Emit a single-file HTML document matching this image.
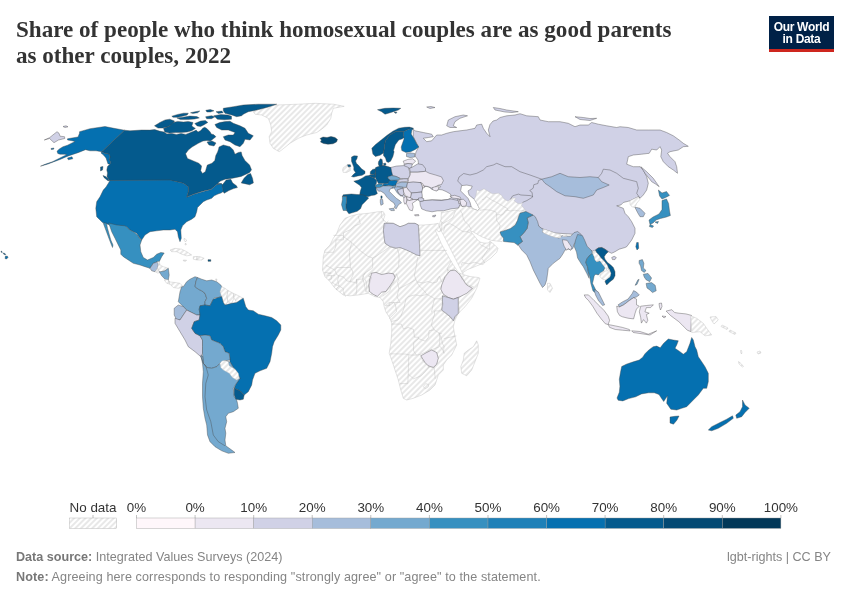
<!DOCTYPE html>
<html><head><meta charset="utf-8">
<style>
html,body{margin:0;padding:0;background:#fff;}
body{width:850px;height:600px;position:relative;overflow:hidden;font-family:"Liberation Sans",sans-serif;}
#wrap{position:absolute;left:0;top:0;width:850px;height:600px;will-change:transform;background:#fff;}
.title{position:absolute;left:16px;top:17px;font-family:"Liberation Serif",serif;font-weight:bold;font-size:24px;line-height:25.5px;color:#333;white-space:nowrap;transform:scaleX(0.962);transform-origin:0 0;}
.logo{position:absolute;left:769px;top:16px;width:65px;height:36px;background:#002147;}
.logo .bar{position:absolute;left:0;bottom:0;width:65px;height:3px;background:#ce261e;}
.logo .t{position:absolute;left:0;top:4.5px;width:65px;text-align:center;color:#fff;font-size:12px;line-height:12.5px;font-weight:bold;letter-spacing:-0.3px;}
svg{position:absolute;left:0;top:0;}
.foot{position:absolute;left:16px;font-size:12.6px;color:#858585;white-space:nowrap;}
.foot b{color:#777;}
.lic{position:absolute;right:19px;top:550px;font-size:12.6px;color:#858585;}
</style></head><body><div id="wrap">
<div class="title">Share of people who think homosexual couples are as good parents<br>as other couples, 2022</div>
<div class="logo"><div class="t">Our World<br>in Data</div><div class="bar"></div></div>
<svg width="850" height="600" viewBox="0 0 850 600">
<defs><pattern id="nd" patternUnits="userSpaceOnUse" width="4" height="4" patternTransform="rotate(-45 2 2)"><rect x="-1" y="-1" width="6" height="6" fill="#fff"/><path d="M -1,2 l 6,0" stroke="#c9c9c9" stroke-width="0.85"/></pattern></defs>
<g>
<path d="M413.3,129.2 L415.0,130.8 L423.3,132.5 L431.7,134.2 L433.3,136.7 L428.3,137.5 L423.3,138.3 L426.7,141.7 L431.7,140.8 L436.7,135.0 L441.7,135.0 L446.7,133.3 L453.3,131.7 L460.0,130.8 L466.7,130.0 L475.0,128.3 L476.7,125.0 L481.7,124.2 L483.3,128.3 L486.7,133.3 L490.0,136.7 L488.3,130.0 L490.0,124.5 L493.0,121.0 L496.7,120.0 L500.0,117.5 L506.7,115.8 L515.0,115.0 L520.0,113.7 L526.7,115.8 L538.3,116.7 L540.0,120.0 L548.3,121.7 L560.0,121.7 L568.3,123.3 L575.0,126.7 L580.0,125.0 L588.3,125.0 L591.7,122.5 L598.3,124.2 L606.7,125.8 L616.7,127.5 L620.0,126.7 L628.3,127.5 L636.7,130.0 L648.3,130.0 L660.0,130.0 L666.7,132.5 L673.3,135.8 L679.2,140.0 L683.3,143.3 L688.3,146.3 L683.3,146.7 L678.3,150.0 L670.0,151.7 L667.5,153.3 L670.0,156.7 L675.0,161.7 L676.7,166.7 L677.5,173.3 L673.3,170.0 L668.3,166.7 L663.3,161.7 L660.8,156.7 L661.7,150.0 L660.0,146.7 L656.7,150.0 L651.7,149.2 L649.2,153.3 L641.7,154.2 L633.3,155.0 L628.3,156.7 L626.7,164.2 L633.3,166.7 L640.0,166.7 L643.3,170.0 L646.7,176.7 L648.3,183.3 L646.7,190.0 L643.3,195.0 L640.0,198.3 L638.3,196.7 L630.0,200.8 L623.3,202.5 L620.8,205.0 L616.7,205.8 L623.3,208.3 L625.0,213.3 L628.3,216.7 L631.7,221.7 L635.0,228.3 L635.0,233.3 L631.7,240.0 L626.7,246.7 L625.0,247.5 L619.2,249.2 L615.0,251.7 L611.7,253.3 L608.3,251.7 L605.0,249.2 L601.7,247.5 L598.3,247.9 L595.4,250.0 L592.5,251.2 L588.3,249.2 L584.2,243.3 L580.0,235.0 L570.0,234.0 L555.0,233.0 L540.0,228.0 L530.0,215.0 L520.0,210.0 L505.0,206.0 L490.0,206.0 L478.0,206.0 L468.0,207.0 L460.0,206.0 L450.0,201.0 L440.0,201.0 L425.0,200.0 L420.0,196.0 L418.0,188.0 L420.0,175.0 L418.0,160.0 L415.0,156.0 L416.0,152.0 L418.5,147.0 L416.5,143.0 L413.3,136.7 L413.3,131.0Z" fill="#d0d1e6" stroke="#444" stroke-width="0.4"/>
<path d="M330.0,245.0 L333.3,238.3 L336.7,233.3 L340.0,225.0 L345.0,218.3 L351.7,215.8 L358.3,214.2 L368.3,213.3 L378.3,211.7 L383.3,211.7 L385.0,215.0 L383.3,220.0 L386.7,222.5 L393.3,223.3 L400.0,226.7 L405.0,225.0 L408.3,223.3 L415.0,223.3 L418.3,225.0 L423.3,225.0 L433.3,224.2 L438.3,223.3 L439.1,225.4 L441.2,230.7 L439.0,232.0 L436.0,229.5 L435.5,231.0 L438.0,236.0 L441.0,243.0 L444.7,250.0 L448.7,257.0 L452.7,264.0 L456.7,270.0 L459.3,273.0 L463.0,274.5 L470.0,276.5 L478.3,277.5 L480.0,278.3 L476.7,288.3 L471.7,298.3 L465.0,306.7 L458.3,313.3 L455.0,320.0 L453.3,326.7 L455.0,336.7 L456.7,345.0 L451.7,355.0 L446.7,360.0 L443.3,365.0 L443.3,370.0 L438.3,375.0 L436.7,380.0 L435.0,385.0 L430.0,390.0 L421.7,395.0 L413.3,398.3 L406.7,400.0 L403.3,398.3 L400.8,390.0 L398.3,380.0 L395.0,370.0 L391.7,360.0 L389.2,353.3 L390.8,343.3 L391.7,333.3 L391.7,323.3 L390.0,318.3 L385.8,311.7 L384.2,306.7 L383.3,301.7 L380.0,297.5 L375.0,296.7 L368.3,293.3 L358.3,295.0 L350.0,295.8 L343.3,295.0 L335.0,288.3 L330.0,281.7 L325.0,276.7 L322.5,270.0 L323.3,256.7 L325.0,250.0Z" fill="url(#nd)" stroke="#bcbcbc" stroke-width="0.4"/>
<path d="M461.6,185.6 L466.9,185.1 L472.2,186.1 L471.2,188.8 L468.0,190.9 L469.1,195.1 L474.4,199.4 L477.5,204.6 L479.6,208.9 L477.5,210.5 L473.3,208.9 L471.2,206.8 L470.1,202.5 L468.0,198.3 L463.8,194.1 L460.6,190.9Z" fill="#fff" stroke="#444" stroke-width="0.4"/>
<path d="M421.8,190.0 L423.0,187.5 L426.0,186.3 L429.0,187.0 L432.0,189.5 L434.5,189.8 L436.5,190.8 L439.0,189.5 L442.0,189.8 L446.0,191.5 L450.5,194.0 L451.5,197.5 L448.0,199.5 L441.5,200.0 L432.0,199.8 L424.5,200.5 L422.0,199.0 L421.5,194.0Z" fill="#fff" stroke="#444" stroke-width="0.4"/>
<path d="M434.7,186.0 L437.5,185.3 L440.6,186.5 L439.0,188.5 L436.5,188.0Z" fill="#fff" stroke="#444" stroke-width="0.4"/>
<path d="M477.0,190.0 L479.6,190.9 L483.9,188.8 L489.2,191.9 L492.4,193.8 L495.0,193.5 L498.5,193.2 L501.5,195.3 L503.8,198.8 L507.9,201.2 L510.3,199.4 L513.0,197.5 L516.0,198.5 L514.0,200.5 L517.4,203.3 L520.9,203.8 L522.6,202.4 L521.5,205.3 L523.8,208.2 L525.6,210.6 L526.2,211.0 L523.3,212.3 L519.3,213.7 L518.0,217.7 L516.7,224.3 L512.7,228.3 L507.3,231.0 L500.7,231.0 L504.7,237.7 L502.0,241.7 L496.7,241.0 L491.3,240.3 L487.3,239.0 L483.3,237.5 L479.3,235.5 L474.0,232.3 L470.3,230.7 L472.0,233.0 L476.0,238.0 L478.7,241.2 L480.0,242.0 L484.0,243.0 L488.0,243.0 L490.3,241.5 L494.0,244.3 L498.0,248.3 L496.7,252.3 L491.3,257.7 L486.0,261.7 L480.7,264.3 L474.0,267.0 L467.3,269.7 L463.3,272.3 L462.9,274.0 L460.0,268.0 L456.0,260.0 L451.0,250.0 L446.0,240.0 L441.2,230.7 L439.1,225.4 L441.1,218.8 L441.3,212.3 L445.0,212.0 L450.0,211.0 L455.0,210.0 L458.3,208.3 L460.0,205.0 L462.0,206.5 L466.0,206.0 L469.0,207.5 L473.3,208.9 L477.5,210.5 L479.6,208.9 L477.5,204.6 L474.4,199.4 L476.0,195.0Z" fill="url(#nd)" stroke="#bcbcbc" stroke-width="0.4"/>
<path d="M253.3,111.7 L265.0,106.7 L276.7,105.0 L298.3,104.2 L315.0,103.3 L333.3,104.2 L344.2,106.3 L333.3,108.3 L331.7,113.3 L330.8,118.3 L326.7,125.0 L321.7,129.2 L316.7,132.5 L306.7,135.0 L298.3,138.3 L290.0,143.3 L281.7,150.0 L279.2,151.7 L273.3,148.3 L270.0,143.3 L269.2,136.7 L271.7,131.7 L270.8,125.0 L268.3,118.3 L261.7,115.0 L255.0,114.2Z" fill="url(#nd)" stroke="#bcbcbc" stroke-width="0.4"/>
<path d="M124.5,130.2 L130.0,130.8 L141.7,130.0 L150.0,130.1 L154.7,129.6 L159.4,131.1 L164.1,132.0 L166.9,133.9 L171.6,133.4 L176.4,134.4 L181.1,133.4 L185.8,134.4 L190.5,132.5 L194.2,131.1 L196.1,130.1 L198.0,132.0 L200.8,130.6 L202.7,128.2 L204.6,127.3 L206.5,128.2 L208.4,130.1 L210.2,132.0 L211.2,133.9 L214.0,134.8 L215.9,136.7 L213.0,139.0 L210.5,141.0 L207.0,140.5 L203.0,141.0 L198.3,143.3 L192.0,147.0 L188.3,150.0 L185.6,153.8 L187.5,158.5 L192.2,160.4 L198.8,163.2 L201.6,166.0 L200.7,170.7 L202.6,173.5 L205.4,171.6 L206.4,167.9 L207.3,165.1 L212.0,163.2 L214.8,160.4 L215.8,155.6 L217.6,151.9 L218.6,149.0 L219.0,147.0 L223.3,145.0 L230.0,146.7 L233.3,150.0 L235.0,154.2 L238.3,152.5 L241.2,151.9 L242.1,155.6 L244.9,160.4 L249.6,165.1 L251.5,169.8 L249.6,172.6 L241.2,176.4 L232.7,178.2 L225.2,179.2 L220.5,181.1 L217.5,183.5 L221.4,183.5 L222.4,184.8 L226.1,180.1 L230.8,179.2 L232.7,182.9 L236.5,185.8 L237.4,187.6 L233.6,188.6 L228.9,190.5 L224.2,193.3 L223.0,191.4 L222.0,187.0 L221.4,184.5 L216.7,184.5 L211.1,189.2 L203.5,191.1 L194.1,193.9 L186.7,197.0 L188.3,191.7 L188.3,186.7 L183.3,183.3 L176.7,181.7 L170.0,180.6 L109.8,180.8 L108.0,178.5 L107.0,176.5 L107.5,173.0 L106.8,170.0 L107.5,166.5 L110.0,164.0 L111.0,162.0 L109.0,160.0 L110.0,157.0 L109.0,154.0 L105.0,153.5 L101.7,151.7Z" fill="#045a8d" stroke="#444" stroke-width="0.4"/>
<path d="M223.3,108.3 L233.3,106.7 L243.3,105.0 L258.3,104.2 L276.7,104.2 L266.7,107.5 L256.7,110.0 L248.3,111.7 L243.3,114.2 L241.7,115.8 L236.7,116.7 L231.7,115.0 L225.0,113.3 L223.3,110.8Z" fill="#045a8d" stroke="#444" stroke-width="0.4"/>
<path d="M214.9,124.5 L219.6,122.6 L225.3,121.6 L230.0,121.2 L233.3,123.3 L240.0,125.8 L245.0,128.3 L248.3,133.3 L253.3,135.8 L250.0,140.0 L245.0,139.2 L243.3,143.3 L240.0,146.7 L235.0,145.0 L230.0,141.7 L225.0,140.0 L223.3,136.7 L228.3,135.0 L233.3,135.0 L235.0,132.5 L228.3,130.0 L221.7,130.0 L216.7,127.5Z" fill="#045a8d" stroke="#444" stroke-width="0.4"/>
<path d="M154.5,125.8 L160.4,122.2 L165.1,119.9 L169.8,119.2 L174.5,121.0 L172.1,124.6 L167.4,127.0 L162.8,128.1 L158.0,128.1Z" fill="#045a8d" stroke="#444" stroke-width="0.4"/>
<path d="M163.5,128.4 L169.4,126.1 L173.0,122.5 L177.7,121.4 L183.5,122.0 L188.3,121.4 L193.0,122.5 L191.8,126.1 L195.4,128.4 L191.8,130.8 L187.2,132.0 L181.3,132.5 L175.4,132.5 L169.4,133.1 L164.8,132.0Z" fill="#045a8d" stroke="#444" stroke-width="0.4"/>
<path d="M171.8,116.2 L177.7,114.4 L183.6,113.2 L188.3,113.2 L187.2,115.0 L182.4,116.2 L177.7,117.3 L173.1,117.3Z" fill="#045a8d" stroke="#444" stroke-width="0.4"/>
<path d="M176.9,117.9 L182.8,117.2 L189.8,116.1 L196.9,116.6 L199.3,117.9 L194.5,119.0 L187.4,119.6 L180.4,119.6Z" fill="#045a8d" stroke="#444" stroke-width="0.4"/>
<path d="M190.5,112.8 L195.2,111.7 L199.8,111.0 L197.6,112.8 L192.8,113.4Z" fill="#045a8d" stroke="#444" stroke-width="0.4"/>
<path d="M194.8,123.5 L200.6,121.1 L205.4,120.6 L207.8,122.4 L204.1,124.7 L200.6,126.5 L197.1,125.9Z" fill="#045a8d" stroke="#444" stroke-width="0.4"/>
<path d="M205.6,116.8 L211.5,115.7 L215.0,116.8 L211.5,118.7 L206.7,118.7Z" fill="#045a8d" stroke="#444" stroke-width="0.4"/>
<path d="M205.8,110.3 L210.4,109.6 L214.0,110.8 L210.4,112.0 L206.9,112.0Z" fill="#045a8d" stroke="#444" stroke-width="0.4"/>
<path d="M216.0,111.7 L221.9,111.1 L223.2,112.8 L218.4,113.4Z" fill="#045a8d" stroke="#444" stroke-width="0.4"/>
<path d="M213.9,115.7 L220.9,114.6 L228.0,115.1 L231.5,116.3 L231.5,119.2 L224.5,119.8 L217.4,119.2Z" fill="#045a8d" stroke="#444" stroke-width="0.4"/>
<path d="M207.0,142.0 L212.0,141.0 L216.0,143.0 L214.0,146.0 L209.0,145.0Z" fill="#045a8d" stroke="#444" stroke-width="0.4"/>
<path d="M241.2,182.9 L244.0,178.2 L247.8,174.5 L250.6,173.5 L252.5,178.2 L253.4,182.9 L249.6,184.8 L245.9,183.9Z" fill="#045a8d" stroke="#444" stroke-width="0.4"/>
<path d="M103.0,175.5 L105.5,176.5 L108.0,178.5 L109.5,181.0 L107.5,180.5 L104.0,177.5Z" fill="#045a8d" stroke="#444" stroke-width="0.4"/>
<path d="M100.5,167.0 L103.0,166.5 L102.5,170.0 L100.5,171.0Z" fill="#045a8d" stroke="#444" stroke-width="0.4"/>
<path d="M79.5,131.7 L90.0,128.7 L105.0,126.5 L114.0,128.3 L124.5,130.2 L101.7,151.7 L96.0,150.8 L90.0,150.8 L85.5,149.7 L81.8,151.2 L78.0,152.7 L73.5,154.2 L69.0,155.7 L65.3,157.2 L60.0,159.5 L54.0,161.7 L48.0,164.0 L40.5,166.2 L45.0,164.3 L52.5,161.7 L60.0,158.0 L64.5,155.7 L66.8,154.7 L64.5,154.2 L60.0,154.2 L57.8,153.5 L57.0,151.2 L59.3,149.0 L63.0,146.7 L67.5,145.2 L72.0,143.0 L75.0,141.5 L72.0,140.7 L67.5,140.0 L67.5,138.8 L73.5,137.7 L78.0,137.0 L79.5,133.2Z" fill="#0570b0" stroke="#444" stroke-width="0.4"/>
<path d="M67.5,158.0 L72.0,156.8 L72.8,158.8 L68.3,159.8Z" fill="#0570b0" stroke="#444" stroke-width="0.4"/>
<path d="M51.0,148.5 L54.0,148.0 L53.5,149.3 L51.2,149.5Z" fill="#0570b0" stroke="#444" stroke-width="0.4"/>
<path d="M101.7,151.7 L105.0,153.5 L109.0,154.0 L110.0,157.0 L109.0,160.0 L111.0,162.0 L110.0,164.0 L108.0,164.0 L107.0,161.0 L106.0,158.0 L103.5,155.0 L101.0,153.0Z" fill="#0570b0" stroke="#444" stroke-width="0.4"/>
<path d="M110.0,180.5 L108.5,183.0 L106.0,187.0 L103.3,190.0 L100.0,196.7 L96.7,201.7 L95.8,208.3 L96.7,216.7 L99.2,219.2 L102.5,222.5 L110.0,225.0 L118.3,225.8 L126.7,226.7 L130.0,230.0 L133.3,231.7 L136.7,233.3 L140.0,238.3 L141.7,240.0 L145.0,235.0 L150.0,231.7 L156.7,230.8 L163.3,230.0 L170.0,230.0 L175.0,229.2 L177.5,231.7 L178.3,236.7 L180.0,241.7 L181.3,238.3 L180.8,230.0 L182.5,225.8 L186.7,221.7 L191.7,219.2 L195.0,216.7 L196.7,211.7 L197.5,207.5 L200.0,205.0 L203.3,201.7 L206.7,200.0 L211.7,198.3 L214.2,195.8 L218.0,194.0 L221.0,193.0 L223.3,191.4 L222.4,187.0 L222.4,184.8 L221.4,183.9 L216.7,184.8 L211.1,189.5 L203.5,191.4 L194.1,194.2 L186.7,197.3 L188.3,191.7 L188.3,186.7 L183.3,183.3 L176.7,181.7 L170.0,180.0Z" fill="#0570b0" stroke="#444" stroke-width="0.4"/>
<path d="M5.5,256.0 L7.5,256.3 L8.0,257.5 L6.5,259.0 L5.0,258.5Z" fill="#0570b0" stroke="#444" stroke-width="0.4"/>
<path d="M1.0,251.0 L2.0,251.5 L2.3,252.5 L1.2,252.3Z" fill="#0570b0" stroke="#444" stroke-width="0.4"/>
<path d="M3.0,253.0 L5.0,253.5 L5.8,254.7 L4.0,254.5Z" fill="#0570b0" stroke="#444" stroke-width="0.4"/>
<path d="M44.3,140.0 L49.5,137.7 L57.0,131.7 L59.0,133.2 L60.0,136.2 L64.5,136.7 L64.8,138.5 L58.5,140.0 L54.0,142.7 L49.5,138.5Z" fill="#d0d1e6" stroke="#444" stroke-width="0.4"/>
<path d="M63.0,126.5 L66.0,125.8 L68.0,126.8 L65.0,127.5Z" fill="#d0d1e6" stroke="#444" stroke-width="0.4"/>
<path d="M103.3,223.3 L105.8,230.0 L108.3,236.7 L110.8,243.3 L112.5,247.5 L113.0,245.0 L110.8,240.0 L109.2,234.2 L107.5,228.3 L106.7,224.2 L106.5,223.0Z" fill="#3690c0" stroke="#444" stroke-width="0.4"/>
<path d="M108.5,223.0 L116.7,225.0 L125.0,225.8 L130.0,230.0 L133.3,231.7 L137.5,235.0 L140.8,240.0 L141.7,240.0 L140.0,245.0 L140.8,251.7 L143.3,257.5 L147.5,260.0 L153.3,257.5 L156.7,254.2 L160.8,252.5 L164.2,253.0 L161.7,256.7 L159.2,261.7 L157.5,261.7 L155.8,262.5 L153.3,263.3 L150.0,268.3 L145.0,266.7 L140.0,265.0 L133.3,263.3 L128.3,260.0 L123.3,256.7 L120.8,254.2 L120.8,250.0 L118.3,245.0 L115.0,238.3 L111.7,231.7 L110.0,226.7Z" fill="#3690c0" stroke="#444" stroke-width="0.4"/>
<path d="M153.3,263.3 L155.8,262.5 L157.5,261.7 L158.3,265.0 L157.5,268.3 L155.0,271.7 L151.7,270.8 L150.0,268.3Z" fill="#a6bddb" stroke="#444" stroke-width="0.4"/>
<path d="M157.5,261.7 L159.2,261.7 L160.0,265.0 L158.3,265.0Z" fill="url(#nd)" stroke="#bcbcbc" stroke-width="0.4"/>
<path d="M157.5,268.3 L158.3,265.0 L160.0,265.0 L163.3,266.7 L168.3,268.3 L165.0,270.8 L160.8,271.7 L159.2,271.7Z" fill="url(#nd)" stroke="#bcbcbc" stroke-width="0.4"/>
<path d="M155.0,271.7 L157.5,268.3 L159.2,271.7 L158.3,273.3Z" fill="url(#nd)" stroke="#bcbcbc" stroke-width="0.4"/>
<path d="M159.2,271.7 L160.8,271.7 L165.0,270.8 L168.3,268.3 L169.2,275.0 L168.3,280.0 L165.0,279.2 L161.7,275.8Z" fill="#74a9cf" stroke="#444" stroke-width="0.4"/>
<path d="M164.2,280.0 L165.0,279.2 L168.3,280.0 L170.0,284.2 L166.7,283.3Z" fill="url(#nd)" stroke="#bcbcbc" stroke-width="0.4"/>
<path d="M168.3,280.0 L170.0,282.0 L175.0,282.5 L180.0,283.3 L183.3,286.7 L181.7,287.5 L178.3,288.3 L173.3,287.5 L170.0,284.2Z" fill="url(#nd)" stroke="#bcbcbc" stroke-width="0.4"/>
<path d="M170.0,250.0 L175.0,248.3 L181.7,249.2 L186.7,251.7 L191.7,255.0 L186.7,255.8 L181.7,254.2 L176.7,251.7 L171.7,251.7Z" fill="url(#nd)" stroke="#bcbcbc" stroke-width="0.4"/>
<path d="M193.3,256.7 L197.0,256.5 L197.0,260.0 L193.3,259.2Z" fill="url(#nd)" stroke="#bcbcbc" stroke-width="0.4"/>
<path d="M197.0,256.5 L200.0,256.7 L204.2,258.3 L201.7,260.0 L197.0,260.0Z" fill="url(#nd)" stroke="#bcbcbc" stroke-width="0.4"/>
<path d="M183.3,260.0 L186.7,260.3 L185.5,261.3 L183.5,261.0Z" fill="url(#nd)" stroke="#bcbcbc" stroke-width="0.4"/>
<path d="M208.0,259.7 L210.8,259.7 L210.8,261.3 L208.0,261.3Z" fill="#045a8d" stroke="#444" stroke-width="0.4"/>
<path d="M184.2,238.3 L186.7,240.0 L185.5,242.0 L184.0,240.0Z" fill="url(#nd)" stroke="#bcbcbc" stroke-width="0.4"/>
<path d="M185.5,243.0 L186.5,244.5 L185.0,245.0Z" fill="url(#nd)" stroke="#bcbcbc" stroke-width="0.4"/>
<path d="M215.5,279.0 L217.0,279.0 L216.5,281.0Z" fill="url(#nd)" stroke="#bcbcbc" stroke-width="0.4"/>
<path d="M181.7,286.7 L183.3,286.7 L186.7,281.7 L190.0,279.2 L195.0,276.7 L197.5,277.5 L195.8,281.7 L195.0,286.7 L198.3,289.2 L201.7,290.8 L205.0,293.3 L206.7,298.3 L205.0,301.7 L205.0,305.0 L200.0,305.8 L199.2,309.2 L200.0,315.0 L196.7,315.0 L190.0,311.7 L186.7,310.0 L183.3,306.7 L178.3,301.7 L180.0,291.7Z" fill="#74a9cf" stroke="#444" stroke-width="0.4"/>
<path d="M197.5,277.5 L201.7,279.2 L206.7,280.8 L211.7,280.0 L216.7,281.7 L220.8,285.0 L222.5,288.3 L221.0,292.0 L222.0,296.5 L218.3,297.5 L215.0,297.5 L213.3,299.2 L210.0,305.8 L205.0,305.0 L205.0,301.7 L206.7,298.3 L205.0,293.3 L201.7,290.8 L198.3,289.2 L195.0,286.7 L195.8,281.7Z" fill="#74a9cf" stroke="#444" stroke-width="0.4"/>
<path d="M221.7,286.7 L225.0,288.3 L228.0,290.5 L227.0,296.0 L228.0,302.0 L225.0,305.0 L223.3,302.5 L221.7,296.7 L220.0,291.7Z" fill="url(#nd)" stroke="#bcbcbc" stroke-width="0.4"/>
<path d="M228.0,290.5 L233.3,293.3 L234.0,298.0 L231.7,303.3 L228.0,302.0 L227.0,296.0Z" fill="url(#nd)" stroke="#bcbcbc" stroke-width="0.4"/>
<path d="M233.3,293.3 L238.0,295.5 L241.7,297.5 L243.3,298.3 L241.7,299.2 L236.7,302.5 L234.0,298.0Z" fill="url(#nd)" stroke="#bcbcbc" stroke-width="0.4"/>
<path d="M174.2,308.3 L178.3,305.0 L183.3,306.7 L186.7,310.0 L183.3,315.0 L180.0,320.0 L176.7,320.0 L174.2,315.0Z" fill="#a6bddb" stroke="#444" stroke-width="0.4"/>
<path d="M175.0,318.3 L180.0,320.0 L183.3,315.0 L186.7,310.0 L190.0,311.7 L196.7,315.0 L200.0,315.0 L199.2,320.0 L194.2,321.7 L191.7,328.3 L195.0,333.3 L200.0,335.8 L202.5,340.0 L202.5,346.7 L202.5,353.3 L200.8,356.7 L195.0,351.7 L188.3,346.7 L185.0,340.0 L180.0,331.7 L175.0,323.3Z" fill="#d0d1e6" stroke="#444" stroke-width="0.4"/>
<path d="M200.0,305.8 L205.0,305.0 L210.0,305.8 L213.3,299.2 L218.3,297.5 L221.7,296.7 L223.3,302.5 L225.0,305.0 L231.7,303.3 L236.7,302.5 L241.7,299.2 L243.3,298.3 L245.8,306.7 L248.3,310.0 L253.3,310.8 L258.3,314.2 L265.0,315.8 L271.7,317.5 L276.7,320.8 L280.8,325.0 L280.8,330.0 L278.3,335.0 L274.2,341.7 L272.5,346.7 L271.7,353.3 L270.0,361.7 L266.7,368.3 L260.0,370.8 L255.0,373.3 L252.5,380.0 L251.7,385.0 L248.3,391.7 L244.2,395.0 L240.0,390.8 L234.2,388.3 L235.8,384.2 L240.0,378.3 L238.3,375.0 L236.7,371.7 L233.3,367.5 L230.0,361.7 L230.0,360.0 L229.2,353.3 L225.0,351.7 L223.3,346.7 L220.0,343.3 L211.7,340.0 L210.0,335.8 L205.0,335.0 L200.0,335.8 L195.0,333.3 L191.7,328.3 L194.2,321.7 L199.2,320.0 L200.0,315.0 L199.2,309.2Z" fill="#0570b0" stroke="#444" stroke-width="0.4"/>
<path d="M200.0,335.8 L205.0,335.0 L210.0,335.8 L211.7,340.0 L220.0,343.3 L223.3,346.7 L225.0,351.7 L229.2,353.3 L230.0,360.0 L225.0,360.8 L220.0,363.3 L216.7,366.7 L211.7,368.3 L206.7,367.5 L203.3,363.3 L202.5,353.3 L202.5,346.7 L202.5,340.0Z" fill="#74a9cf" stroke="#444" stroke-width="0.4"/>
<path d="M200.8,355.5 L202.5,363.3 L203.3,371.7 L202.5,383.3 L202.5,396.7 L203.3,408.3 L205.0,418.3 L206.7,425.0 L207.5,435.0 L210.0,441.7 L215.0,446.7 L221.7,450.8 L228.3,453.3 L235.0,452.5 L231.7,450.0 L225.8,445.8 L225.0,440.0 L225.8,433.3 L225.0,428.3 L226.7,421.7 L225.8,416.7 L228.3,413.3 L233.3,411.7 L238.3,408.3 L237.5,403.3 L236.7,400.0 L234.2,396.7 L233.3,388.3 L235.8,384.2 L240.0,378.3 L238.3,375.0 L236.7,371.7 L233.3,367.5 L230.0,362.0 L225.0,360.8 L220.0,363.3 L216.7,366.7 L211.7,368.3 L206.7,367.5 L203.3,363.3 L202.5,356.0Z" fill="#74a9cf" stroke="#444" stroke-width="0.4"/>
<path d="M234.2,388.3 L240.0,390.8 L244.2,395.0 L243.3,399.2 L240.0,400.0 L235.8,399.2 L234.2,395.0Z" fill="#045a8d" stroke="#444" stroke-width="0.4"/>
<path d="M220.0,363.3 L222.0,361.0 L225.0,360.4 L228.3,361.7 L229.2,365.8 L235.0,369.2 L238.3,373.3 L239.2,378.3 L236.7,380.0 L232.5,377.5 L229.2,373.3 L223.3,370.0 L220.8,367.5Z" fill="url(#nd)" stroke="#bcbcbc" stroke-width="0.4"/>
<path d="M320.0,138.5 L323.0,137.0 L327.0,137.5 L331.0,136.5 L335.0,137.5 L337.5,139.5 L336.5,142.0 L333.0,143.8 L328.0,144.2 L323.5,143.5 L320.5,142.0 L321.5,140.0Z" fill="#034973" stroke="#444" stroke-width="0.4"/>
<path d="M343.2,167.6 L346.8,165.3 L348.5,167.1 L350.3,167.6 L350.3,170.6 L346.8,172.4 L343.2,172.4 L342.6,170.0Z" fill="url(#nd)" stroke="#bcbcbc" stroke-width="0.4"/>
<path d="M351.5,157.1 L354.0,155.8 L357.5,156.0 L357.0,158.5 L355.6,161.0 L356.5,163.5 L358.5,165.3 L361.5,168.8 L365.0,171.2 L365.0,173.5 L362.1,175.3 L357.9,175.9 L353.8,177.1 L351.5,176.5 L353.8,174.1 L355.6,172.4 L353.8,170.0 L353.8,167.1 L352.6,164.1 L351.5,161.2Z" fill="#045a8d" stroke="#444" stroke-width="0.4"/>
<path d="M347.4,164.7 L350.3,164.7 L350.9,166.5 L348.5,167.1Z" fill="#045a8d" stroke="#444" stroke-width="0.4"/>
<path d="M372.9,154.1 L371.8,148.2 L375.3,144.7 L381.2,140.0 L387.1,135.3 L392.9,131.2 L398.8,128.2 L404.7,127.3 L409.4,127.1 L413.5,128.2 L412.5,129.5 L410.6,128.8 L408.2,129.4 L403.5,131.8 L400.0,131.2 L395.3,131.8 L389.4,135.3 L385.3,141.2 L384.1,149.4 L383.5,152.9 L380.0,155.3 L375.3,156.5Z" fill="#045a8d" stroke="#444" stroke-width="0.4"/>
<path d="M377.5,109.7 L385.0,108.3 L393.3,108.0 L400.8,108.3 L398.3,110.0 L393.3,111.7 L388.3,113.3 L385.0,114.2 L381.7,111.7Z" fill="#045a8d" stroke="#444" stroke-width="0.4"/>
<path d="M394.0,112.0 L397.0,112.2 L396.0,113.5Z" fill="#045a8d" stroke="#444" stroke-width="0.4"/>
<path d="M384.1,149.4 L385.3,141.2 L389.4,135.3 L395.3,131.8 L400.0,131.2 L403.5,131.8 L403.5,135.3 L404.1,137.6 L402.4,138.8 L398.8,140.0 L395.3,144.7 L393.5,150.6 L394.1,151.8 L392.9,156.5 L390.6,161.2 L388.2,162.4 L386.5,161.5 L385.5,158.0 L383.5,155.5 L383.5,152.9Z" fill="#045a8d" stroke="#444" stroke-width="0.4"/>
<path d="M403.5,131.8 L408.2,129.4 L410.6,128.8 L412.5,129.5 L411.8,130.6 L411.2,134.1 L414.1,138.8 L416.5,143.5 L418.8,147.1 L415.3,149.4 L410.6,151.8 L405.9,152.4 L401.8,150.6 L401.2,147.1 L402.4,143.5 L404.1,138.8 L403.5,135.3Z" fill="#0570b0" stroke="#444" stroke-width="0.4"/>
<path d="M406.5,153.5 L410.0,152.9 L414.7,153.5 L414.7,157.0 L410.0,157.6 L406.5,156.5Z" fill="#a6bddb" stroke="#444" stroke-width="0.4"/>
<path d="M403.2,161.2 L407.9,159.4 L412.6,158.8 L415.6,161.2 L412.6,164.1 L407.9,163.5 L404.4,164.1Z" fill="#ece7f2" stroke="#444" stroke-width="0.4"/>
<path d="M403.8,164.7 L407.9,163.5 L412.6,164.1 L412.1,164.7 L411.5,167.6 L407.9,168.8 L405.6,167.6Z" fill="#d0d1e6" stroke="#444" stroke-width="0.4"/>
<path d="M410.4,172.2 L409.5,168.5 L413.2,166.6 L417.9,163.8 L422.6,164.7 L425.5,168.5 L425.5,171.3 L417.9,172.2Z" fill="#d0d1e6" stroke="#444" stroke-width="0.4"/>
<path d="M409.9,175.1 L410.4,172.2 L417.9,172.2 L425.5,171.3 L429.2,173.2 L435.8,175.1 L441.5,176.9 L443.4,180.7 L441.5,184.5 L437.7,185.4 L434.5,187.5 L431.5,188.0 L428.0,186.5 L424.5,186.0 L422.6,185.0 L420.8,182.6 L413.2,182.1 L407.6,182.6 L408.1,181.2 L408.1,178.8Z" fill="#ece7f2" stroke="#444" stroke-width="0.4"/>
<path d="M390.6,167.5 L396.3,166.1 L403.8,165.6 L408.5,167.5 L409.5,171.3 L409.9,175.1 L408.1,178.8 L403.8,178.8 L400.1,178.4 L396.3,176.5 L391.6,175.5 L390.6,171.3Z" fill="#d0d1e6" stroke="#444" stroke-width="0.4"/>
<path d="M375.6,167.6 L379.7,165.9 L383.2,165.3 L387.9,166.5 L390.9,167.6 L391.5,171.2 L392.6,175.3 L387.9,177.1 L387.9,178.0 L390.9,180.6 L389.1,182.9 L384.4,183.5 L378.5,183.5 L376.8,180.6 L375.0,177.1 L375.6,173.5 L375.0,170.6Z" fill="#045a8d" stroke="#444" stroke-width="0.4"/>
<path d="M378.5,161.8 L380.3,158.8 L382.1,159.4 L382.6,163.5 L382.1,165.9 L379.1,165.9 L378.3,164.0Z" fill="#045a8d" stroke="#444" stroke-width="0.4"/>
<path d="M383.5,163.5 L385.5,163.0 L386.0,165.0 L384.0,165.5Z" fill="#045a8d" stroke="#444" stroke-width="0.4"/>
<path d="M370.3,171.8 L372.6,169.4 L375.6,168.8 L375.6,173.5 L372.6,174.7 L370.3,174.1Z" fill="#045a8d" stroke="#444" stroke-width="0.4"/>
<path d="M370.3,174.7 L372.6,174.7 L375.6,173.5 L375.6,176.5 L374.4,178.2 L370.3,176.5 L369.0,175.5Z" fill="#045a8d" stroke="#444" stroke-width="0.4"/>
<path d="M353.8,181.2 L358.5,180.0 L362.1,178.2 L365.6,175.9 L369.0,175.5 L370.3,176.5 L374.4,178.2 L376.8,180.6 L376.2,184.1 L375.0,185.3 L376.2,187.6 L376.2,190.0 L377.4,193.5 L375.0,195.0 L371.5,195.5 L368.5,196.5 L366.8,196.5 L363.2,195.9 L359.7,194.7 L360.3,191.2 L361.5,187.6 L359.7,185.3 L356.2,182.9Z" fill="#045a8d" stroke="#444" stroke-width="0.4"/>
<path d="M380.9,195.9 L382.1,195.9 L382.1,198.2 L380.9,198.5Z" fill="#045a8d" stroke="#444" stroke-width="0.4"/>
<path d="M343.2,194.8 L351.4,194.0 L357.0,194.5 L363.0,194.8 L366.8,196.5 L368.7,198.1 L365.4,201.4 L362.1,204.7 L360.5,208.8 L357.2,211.3 L351.4,213.0 L348.9,213.8 L346.5,210.5 L345.7,206.4 L346.5,201.4 L346.5,196.5 L342.4,196.5Z" fill="#045a8d" stroke="#444" stroke-width="0.4"/>
<path d="M342.4,196.5 L346.5,196.5 L346.5,201.4 L345.7,206.4 L346.5,210.5 L343.2,210.5 L341.5,204.7 L342.4,199.8Z" fill="#3690c0" stroke="#444" stroke-width="0.4"/>
<path d="M375.0,185.3 L378.5,184.1 L382.1,184.1 L383.2,185.9 L379.7,187.6 L376.2,187.6Z" fill="#3690c0" stroke="#444" stroke-width="0.4"/>
<path d="M387.8,183.5 L389.0,180.5 L394.4,180.0 L397.8,180.4 L397.2,182.1 L396.3,183.5 L395.8,185.4 L392.5,185.9 L388.8,185.4 L385.6,185.9 L383.2,185.9 L383.2,184.1 L385.0,183.3Z" fill="#0570b0" stroke="#444" stroke-width="0.4"/>
<path d="M387.8,176.9 L391.6,175.5 L396.3,176.5 L400.1,178.4 L399.1,179.8 L394.4,180.2 L390.6,180.2 L388.3,178.8Z" fill="#74a9cf" stroke="#444" stroke-width="0.4"/>
<path d="M399.1,179.8 L403.8,178.8 L407.6,178.8 L408.1,181.2 L401.9,182.1 L397.2,182.1Z" fill="#d0d1e6" stroke="#444" stroke-width="0.4"/>
<path d="M396.3,183.5 L401.9,182.1 L407.6,182.6 L406.6,187.3 L402.9,187.3 L397.2,186.8 L395.8,185.4Z" fill="#a6bddb" stroke="#444" stroke-width="0.4"/>
<path d="M407.6,182.6 L413.2,182.1 L420.8,182.6 L422.2,185.4 L422.6,188.2 L421.7,192.0 L417.0,192.5 L411.3,193.0 L408.5,190.1 L406.6,187.3Z" fill="#d0d1e6" stroke="#444" stroke-width="0.4"/>
<path d="M420.8,182.6 L422.6,183.5 L424.5,187.3 L422.6,188.2 L422.2,185.4Z" fill="#fff7fb" stroke="#444" stroke-width="0.4"/>
<path d="M411.3,193.0 L417.0,192.5 L421.7,192.0 L422.2,194.8 L422.2,197.7 L418.0,199.5 L413.2,199.5 L410.4,197.7 L410.9,195.3Z" fill="#d0d1e6" stroke="#444" stroke-width="0.4"/>
<path d="M402.9,188.2 L406.6,187.3 L408.5,190.1 L411.3,193.0 L410.9,195.3 L410.4,197.7 L407.6,198.6 L405.7,195.8 L403.8,193.0Z" fill="#ece7f2" stroke="#444" stroke-width="0.4"/>
<path d="M392.5,186.4 L395.4,185.4 L395.8,186.8 L394.4,187.8 L392.5,188.2Z" fill="#74a9cf" stroke="#444" stroke-width="0.4"/>
<path d="M394.4,187.3 L397.2,186.8 L402.9,187.3 L402.9,188.2 L397.2,190.1 L399.1,193.9 L401.9,195.8 L401.0,196.2 L397.2,192.9 L395.4,190.1 L394.4,188.5Z" fill="#a6bddb" stroke="#444" stroke-width="0.4"/>
<path d="M397.2,190.1 L402.9,188.2 L403.8,193.0 L403.8,194.8 L401.9,195.8 L399.1,193.9Z" fill="#d0d1e6" stroke="#444" stroke-width="0.4"/>
<path d="M401.9,195.8 L403.8,194.8 L405.7,196.7 L403.8,197.6Z" fill="#d0d1e6" stroke="#444" stroke-width="0.4"/>
<path d="M405.7,195.8 L407.6,196.0 L407.0,197.2 L405.7,196.7Z" fill="url(#nd)" stroke="#bcbcbc" stroke-width="0.4"/>
<path d="M403.8,197.6 L405.7,196.7 L406.6,196.7 L407.1,200.0 L406.2,203.3 L404.8,204.2 L403.8,201.4Z" fill="#ece7f2" stroke="#444" stroke-width="0.4"/>
<path d="M406.6,196.7 L410.4,197.7 L413.2,199.5 L409.5,200.5 L407.1,200.0Z" fill="#ece7f2" stroke="#444" stroke-width="0.4"/>
<path d="M406.2,203.3 L407.1,200.0 L409.5,200.5 L413.2,199.5 L418.0,199.5 L415.1,201.4 L412.3,203.3 L413.2,207.1 L412.3,210.8 L409.5,209.9 L407.6,206.1Z" fill="#ece7f2" stroke="#444" stroke-width="0.4"/>
<path d="M414.5,214.8 L418.5,214.5 L419.0,215.7 L415.0,215.8Z" fill="#ece7f2" stroke="#444" stroke-width="0.4"/>
<path d="M376.2,187.6 L379.7,187.6 L383.2,185.9 L385.6,185.9 L389.1,185.9 L391.5,186.5 L392.6,188.2 L390.3,188.8 L389.1,191.2 L392.6,194.7 L396.2,198.2 L399.7,200.6 L401.5,202.9 L399.1,204.1 L397.4,206.5 L396.2,208.8 L394.4,207.6 L395.0,205.3 L393.8,202.9 L390.3,200.6 L386.8,197.1 L384.4,193.5 L380.9,191.2 L378.5,191.2 L377.4,190.0Z" fill="#a6bddb" stroke="#444" stroke-width="0.4"/>
<path d="M389.1,208.8 L393.8,208.2 L394.4,210.6 L390.9,210.6Z" fill="#a6bddb" stroke="#444" stroke-width="0.4"/>
<path d="M380.3,199.4 L382.6,199.4 L383.2,204.1 L380.9,205.3 L380.3,202.4Z" fill="#a6bddb" stroke="#444" stroke-width="0.4"/>
<path d="M432.5,215.8 L435.8,215.0 L435.0,216.7 L432.8,216.8Z" fill="#d0d1e6" stroke="#444" stroke-width="0.4"/>
<path d="M432.0,188.0 L434.0,187.0 L437.0,186.5 L439.0,187.0 L438.5,189.0 L436.5,191.0 L434.5,190.5 L432.5,189.5Z" fill="#ece7f2" stroke="#444" stroke-width="0.4"/>
<path d="M446.7,125.8 L448.3,120.0 L455.0,116.7 L463.3,115.0 L467.5,115.8 L460.0,118.3 L455.0,121.7 L453.3,125.8 L456.7,127.5 L450.0,127.5Z" fill="#d0d1e6" stroke="#444" stroke-width="0.4"/>
<path d="M493.3,107.5 L500.0,108.5 L506.7,110.0 L518.3,111.7 L512.0,112.5 L505.0,112.0 L495.0,110.0Z" fill="#d0d1e6" stroke="#444" stroke-width="0.4"/>
<path d="M575.0,116.7 L583.3,117.5 L590.0,118.5 L596.7,118.3 L590.0,120.5 L580.0,119.5Z" fill="#d0d1e6" stroke="#444" stroke-width="0.4"/>
<path d="M426.7,107.0 L431.0,106.5 L435.0,107.5 L430.0,108.5Z" fill="#d0d1e6" stroke="#444" stroke-width="0.4"/>
<path d="M640.8,166.7 L646.7,171.7 L653.3,178.3 L659.2,186.7 L655.8,184.2 L651.7,181.7 L645.0,173.3Z" fill="#d0d1e6" stroke="#444" stroke-width="0.4"/>
<path d="M541.7,179.2 L551.7,176.7 L560.0,173.3 L568.3,176.7 L580.0,177.5 L590.0,176.7 L598.3,177.5 L601.7,181.7 L609.2,185.0 L603.3,187.5 L596.7,190.0 L593.3,195.0 L583.3,198.3 L575.0,196.7 L565.0,195.8 L556.7,191.7 L550.0,186.7 L545.0,183.3Z" fill="#a6bddb" stroke="#444" stroke-width="0.4"/>
<path d="M419.8,201.4 L424.5,200.5 L432.1,200.0 L441.5,200.5 L450.9,199.0 L458.4,200.5 L460.3,204.2 L458.4,208.0 L450.9,208.9 L443.4,210.8 L437.7,210.8 L432.1,211.8 L426.4,210.8 L421.7,208.9 L420.3,205.2Z" fill="#d0d1e6" stroke="#444" stroke-width="0.4"/>
<path d="M418.5,198.0 L421.5,197.8 L424.0,198.8 L423.5,200.8 L420.5,201.5 L418.5,200.5Z" fill="#d0d1e6" stroke="#444" stroke-width="0.4"/>
<path d="M449.9,196.2 L454.6,195.3 L460.3,197.2 L461.2,199.5 L457.5,198.6 L452.8,198.1Z" fill="#ece7f2" stroke="#444" stroke-width="0.4"/>
<path d="M457.5,199.0 L459.8,199.6 L460.5,203.5 L458.8,203.8 L458.4,201.0Z" fill="#ece7f2" stroke="#444" stroke-width="0.4"/>
<path d="M459.8,199.6 L461.2,199.5 L463.3,199.2 L466.7,202.5 L466.0,206.0 L462.0,206.5 L460.5,203.5Z" fill="#ece7f2" stroke="#444" stroke-width="0.4"/>
<path d="M527.1,217.9 L529.4,216.8 L533.0,215.0 L535.3,216.8 L537.6,221.5 L538.8,226.2 L543.5,229.7 L542.4,232.0 L549.4,235.0 L558.8,238.0 L561.2,236.8 L562.4,235.0 L563.5,236.2 L570.6,236.2 L574.1,232.6 L577.6,231.5 L581.2,234.4 L580.0,239.1 L576.5,241.5 L574.1,243.8 L572.9,248.5 L570.6,249.7 L568.0,249.0 L565.0,250.0 L563.3,253.3 L560.0,258.3 L553.3,263.3 L548.3,268.3 L546.7,280.0 L545.0,285.0 L542.5,287.5 L540.0,283.3 L536.7,276.7 L533.3,270.0 L530.0,261.7 L526.7,255.0 L521.7,250.0 L518.3,245.0 L517.6,245.0 L522.4,241.5 L520.0,236.8 L523.5,233.2 L527.1,228.5 L528.2,222.6Z" fill="#a6bddb" stroke="#444" stroke-width="0.4"/>
<path d="M500.0,232.0 L503.5,230.9 L510.6,228.5 L515.3,225.0 L517.6,220.3 L518.8,216.2 L520.0,213.2 L525.9,211.5 L529.4,213.2 L533.0,215.0 L529.4,216.8 L527.1,217.9 L528.2,222.6 L527.1,228.5 L523.5,233.2 L520.0,236.8 L522.4,241.5 L517.6,245.0 L514.1,242.6 L503.5,241.5 L503.5,238.0 L501.2,235.6Z" fill="#3690c0" stroke="#444" stroke-width="0.4"/>
<path d="M543.5,229.1 L549.4,230.9 L555.3,233.2 L561.2,235.0 L560.6,238.0 L555.3,237.4 L549.4,235.6 L544.1,233.2 L542.4,231.5Z" fill="url(#nd)" stroke="#bcbcbc" stroke-width="0.4"/>
<path d="M562.5,235.3 L567.0,234.8 L566.5,236.5 L562.8,236.6Z" fill="url(#nd)" stroke="#bcbcbc" stroke-width="0.4"/>
<path d="M562.4,239.7 L567.1,240.3 L569.4,243.8 L571.8,247.4 L570.6,250.3 L568.2,248.5 L566.5,250.3 L564.1,246.2 L562.9,242.6Z" fill="#ece7f2" stroke="#444" stroke-width="0.4"/>
<path d="M547.5,283.3 L550.0,283.3 L552.5,288.3 L550.0,292.5 L547.5,290.0Z" fill="url(#nd)" stroke="#bcbcbc" stroke-width="0.4"/>
<path d="M575.5,240.3 L577.6,234.4 L582.4,235.6 L584.7,240.3 L587.1,246.2 L591.8,250.9 L592.5,253.3 L589.2,255.8 L586.7,259.2 L585.8,262.5 L587.5,266.7 L588.3,271.7 L589.2,278.3 L586.7,273.3 L583.3,266.7 L581.2,263.8 L577.6,258.0 L576.5,252.1 L574.1,246.2Z" fill="#74a9cf" stroke="#444" stroke-width="0.4"/>
<path d="M586.7,259.2 L589.2,255.8 L592.5,253.3 L594.2,256.7 L595.0,260.0 L596.7,261.7 L600.0,260.8 L602.5,264.2 L605.0,267.5 L603.3,271.2 L600.0,273.3 L598.3,275.0 L595.8,274.2 L594.2,275.8 L593.3,280.0 L592.5,283.3 L594.2,286.7 L595.8,290.0 L598.3,293.3 L596.7,293.8 L593.0,291.0 L590.8,283.3 L590.0,277.5 L588.3,271.7 L587.5,266.7 L585.8,262.5Z" fill="#3690c0" stroke="#444" stroke-width="0.4"/>
<path d="M592.5,253.3 L595.4,250.0 L596.7,252.5 L599.2,255.0 L600.8,257.5 L604.2,260.8 L607.5,265.0 L609.2,269.2 L607.5,270.8 L605.0,267.5 L602.5,264.2 L600.0,260.8 L596.7,261.7 L595.0,260.0 L594.2,256.7Z" fill="url(#nd)" stroke="#bcbcbc" stroke-width="0.4"/>
<path d="M595.4,250.0 L598.3,247.9 L601.7,247.5 L605.0,249.2 L608.3,251.7 L605.8,254.2 L604.2,256.7 L605.0,259.2 L607.5,262.5 L610.8,265.0 L613.3,267.5 L615.0,271.7 L615.0,275.8 L613.3,279.2 L610.0,281.7 L606.7,285.0 L605.0,281.7 L605.8,280.0 L610.0,276.7 L610.8,273.3 L609.2,269.2 L607.5,265.0 L604.2,260.8 L600.8,257.5 L599.2,255.0 L596.7,252.5Z" fill="#045a8d" stroke="#444" stroke-width="0.4"/>
<path d="M600.0,273.3 L603.3,271.2 L607.5,270.8 L609.2,269.2 L610.8,273.3 L610.0,276.7 L605.8,280.0 L602.5,279.2 L600.0,276.7Z" fill="url(#nd)" stroke="#bcbcbc" stroke-width="0.4"/>
<path d="M594.1,289.2 L598.4,292.1 L601.2,297.7 L604.7,304.8 L602.6,305.5 L598.4,300.5 L595.5,294.9Z" fill="#a6bddb" stroke="#444" stroke-width="0.4"/>
<path d="M618.1,304.8 L622.4,301.9 L628.0,299.1 L632.2,293.5 L633.6,290.6 L636.5,292.1 L639.3,294.9 L636.5,297.0 L633.6,297.7 L629.4,300.5 L623.8,304.8 L619.5,306.9Z" fill="#a6bddb" stroke="#444" stroke-width="0.4"/>
<path d="M616.7,306.2 L619.5,306.9 L623.8,304.8 L629.4,300.5 L633.6,297.7 L636.5,299.1 L636.5,304.8 L639.3,306.2 L636.5,309.0 L635.1,313.2 L633.6,318.9 L628.0,318.2 L622.4,316.8 L619.5,315.4 L617.4,311.8Z" fill="#ece7f2" stroke="#444" stroke-width="0.4"/>
<path d="M584.2,294.9 L588.5,294.9 L594.1,300.5 L599.8,306.2 L604.0,310.4 L608.2,316.1 L609.6,320.3 L608.2,324.5 L605.4,323.8 L601.2,318.9 L596.9,313.2 L592.7,306.2 L588.5,300.5 L585.6,297.7Z" fill="#ece7f2" stroke="#444" stroke-width="0.4"/>
<path d="M608.2,324.5 L615.3,325.9 L622.4,327.4 L629.4,329.5 L630.1,330.9 L622.4,330.2 L615.3,329.5 L609.6,327.4Z" fill="#ece7f2" stroke="#444" stroke-width="0.4"/>
<path d="M631.7,330.8 L640.0,331.5 L648.3,334.2 L656.7,330.8 L650.0,335.0 L640.0,333.5 L633.3,332.5Z" fill="#ece7f2" stroke="#444" stroke-width="0.4"/>
<path d="M640.7,306.2 L646.4,305.5 L653.4,304.8 L650.6,307.6 L646.4,307.6 L644.9,311.8 L649.2,313.2 L646.4,314.6 L647.8,320.3 L646.4,323.1 L643.5,319.6 L641.4,323.1 L640.7,317.5 L639.3,311.8Z" fill="#ece7f2" stroke="#444" stroke-width="0.4"/>
<path d="M659.0,303.5 L661.5,303.0 L662.0,306.5 L660.5,310.0 L659.5,307.0Z" fill="#ece7f2" stroke="#444" stroke-width="0.4"/>
<path d="M662.0,316.0 L666.0,316.5 L664.0,318.0Z" fill="#ece7f2" stroke="#444" stroke-width="0.4"/>
<path d="M666.1,311.1 L671.8,309.7 L674.6,312.5 L678.8,313.2 L685.9,313.9 L691.5,315.4 L690.8,331.6 L687.3,330.2 L684.5,327.4 L681.7,324.5 L678.8,321.7 L673.2,317.5 L670.4,315.4Z" fill="#ece7f2" stroke="#444" stroke-width="0.4"/>
<path d="M690.8,315.8 L696.7,318.3 L703.3,323.3 L706.7,328.3 L711.7,335.0 L705.0,335.8 L700.0,331.7 L691.7,332.5Z" fill="url(#nd)" stroke="#bcbcbc" stroke-width="0.4"/>
<path d="M710.0,317.0 L716.0,316.5 L718.3,320.0 L714.0,324.0 L712.0,321.0Z" fill="url(#nd)" stroke="#bcbcbc" stroke-width="0.4"/>
<path d="M722.0,325.0 L728.0,328.0 L727.0,329.5 L721.0,326.5Z" fill="url(#nd)" stroke="#bcbcbc" stroke-width="0.4"/>
<path d="M730.0,330.0 L736.0,333.0 L735.0,334.5 L729.0,331.5Z" fill="url(#nd)" stroke="#bcbcbc" stroke-width="0.4"/>
<path d="M639.1,260.5 L642.4,259.6 L643.9,263.3 L643.3,267.9 L646.1,270.6 L644.2,272.4 L641.5,270.6 L640.6,266.0 L639.1,263.3Z" fill="#74a9cf" stroke="#444" stroke-width="0.4"/>
<path d="M643.3,274.3 L648.0,273.4 L651.6,278.0 L649.7,281.7 L646.1,279.8 L644.2,277.0Z" fill="#74a9cf" stroke="#444" stroke-width="0.4"/>
<path d="M646.1,283.5 L651.6,282.6 L655.2,285.3 L656.2,290.8 L652.5,292.6 L649.7,289.9 L647.0,288.0Z" fill="#74a9cf" stroke="#444" stroke-width="0.4"/>
<path d="M635.1,285.3 L637.9,279.8 L639.1,279.4 L637.0,284.4Z" fill="#74a9cf" stroke="#444" stroke-width="0.4"/>
<path d="M636.7,242.5 L638.3,242.5 L638.7,248.3 L637.0,250.0 L635.8,246.7Z" fill="#0570b0" stroke="#444" stroke-width="0.4"/>
<path d="M662.0,200.5 L666.5,199.0 L668.6,203.5 L669.5,211.0 L670.4,215.5 L666.5,217.0 L660.5,218.5 L656.0,220.0 L653.0,223.0 L650.0,224.5 L649.0,220.0 L653.0,217.0 L659.0,214.0 L662.0,209.5 L662.0,205.0Z" fill="#3690c0" stroke="#444" stroke-width="0.4"/>
<path d="M650.0,224.5 L653.6,226.0 L652.4,227.5 L649.4,226.6Z" fill="#3690c0" stroke="#444" stroke-width="0.4"/>
<path d="M655.0,222.0 L658.5,221.5 L657.5,223.5Z" fill="#3690c0" stroke="#444" stroke-width="0.4"/>
<path d="M658.4,190.0 L662.0,193.0 L666.5,191.5 L669.5,195.4 L665.6,197.5 L662.0,199.0 L659.6,196.0Z" fill="#3690c0" stroke="#444" stroke-width="0.4"/>
<path d="M630.0,200.8 L638.3,196.7 L640.0,199.2 L636.7,203.3 L635.0,207.5 L631.7,206.7 L630.0,204.2Z" fill="url(#nd)" stroke="#bcbcbc" stroke-width="0.4"/>
<path d="M635.0,207.5 L636.7,207.5 L640.0,208.3 L645.0,213.3 L643.3,216.7 L640.0,216.7 L637.5,212.5Z" fill="#a6bddb" stroke="#444" stroke-width="0.4"/>
<path d="M611.7,257.5 L614.2,256.3 L616.3,257.5 L615.0,259.6 L612.5,259.6Z" fill="#d0d1e6" stroke="#444" stroke-width="0.4"/>
<path d="M384.2,223.3 L393.3,223.3 L400.0,226.7 L405.0,225.0 L408.3,223.3 L415.0,223.3 L418.3,225.0 L419.2,238.3 L420.0,255.8 L416.7,255.0 L408.3,250.8 L400.0,247.5 L395.8,248.3 L390.0,246.7 L385.0,243.3 L384.2,238.3 L383.3,230.0Z" fill="#d0d1e6" stroke="#444" stroke-width="0.4"/>
<path d="M371.7,273.1 L375.9,272.4 L381.6,274.5 L388.7,273.1 L393.6,273.8 L395.0,277.3 L392.9,281.6 L390.1,285.8 L385.8,291.5 L381.6,292.2 L377.3,296.4 L373.1,294.3 L369.5,291.5 L368.8,285.8 L369.5,280.2Z" fill="#ece7f2" stroke="#444" stroke-width="0.4"/>
<path d="M441.7,285.0 L445.0,276.7 L450.0,270.8 L455.0,270.0 L460.0,275.0 L463.3,280.0 L466.7,285.0 L472.5,288.3 L466.7,293.3 L460.0,296.7 L453.3,299.2 L448.3,297.5 L443.3,294.2 L440.8,289.2Z" fill="#ece7f2" stroke="#444" stroke-width="0.4"/>
<path d="M442.5,295.8 L448.3,297.5 L453.3,299.2 L458.3,297.5 L458.3,313.3 L455.0,316.7 L453.3,320.8 L450.0,316.7 L441.7,310.0 L442.5,303.3Z" fill="#d0d1e6" stroke="#444" stroke-width="0.4"/>
<path d="M420.8,355.8 L426.7,352.5 L431.7,350.0 L436.7,352.5 L438.3,358.3 L436.7,364.2 L433.3,367.5 L428.3,365.8 L425.0,362.5Z" fill="#ece7f2" stroke="#444" stroke-width="0.4"/>
<path d="M476.7,340.8 L478.3,345.0 L478.3,353.3 L475.0,361.7 L471.7,370.0 L466.7,375.8 L461.7,373.3 L460.8,366.7 L463.3,360.0 L464.2,353.3 L468.3,350.0 L473.3,346.7Z" fill="url(#nd)" stroke="#bcbcbc" stroke-width="0.4"/>
<path d="M621.7,366.5 L626.3,364.2 L633.3,361.8 L639.2,360.1 L642.7,357.2 L645.0,353.7 L648.5,350.2 L653.2,346.7 L656.7,346.1 L660.2,347.8 L663.7,343.2 L668.3,339.0 L673.3,340.0 L678.3,340.8 L676.7,345.0 L675.0,348.3 L680.0,351.7 L683.3,354.2 L686.7,351.7 L690.0,343.3 L691.7,337.5 L693.3,340.0 L695.0,346.7 L696.7,350.0 L698.3,356.7 L701.7,361.7 L705.0,366.7 L708.3,373.3 L708.3,381.7 L706.7,388.3 L703.3,388.3 L698.3,395.0 L693.3,400.0 L686.7,406.7 L681.7,408.3 L676.7,410.0 L670.8,409.2 L666.7,403.3 L667.5,395.8 L663.7,401.5 L661.3,398.0 L659.0,394.5 L654.3,392.8 L648.5,392.8 L641.5,393.9 L635.7,396.8 L628.7,398.6 L622.8,400.9 L618.2,400.3 L617.0,398.0 L619.3,392.2 L619.9,386.3 L619.3,379.3 L620.5,372.3Z" fill="#0570b0" stroke="#444" stroke-width="0.4"/>
<path d="M670.0,417.0 L675.0,416.3 L679.0,416.0 L677.0,420.0 L673.5,424.2 L670.0,423.0Z" fill="#0570b0" stroke="#444" stroke-width="0.4"/>
<path d="M742.5,400.0 L745.0,405.0 L749.2,408.3 L745.0,412.5 L741.7,416.7 L736.7,418.3 L735.8,415.0 L740.0,411.7 L742.5,406.7Z" fill="#0570b0" stroke="#444" stroke-width="0.4"/>
<path d="M732.5,415.8 L733.3,418.3 L726.7,423.3 L718.3,428.3 L711.7,430.8 L708.3,430.0 L711.7,426.7 L720.0,422.5 L726.7,419.2Z" fill="#0570b0" stroke="#444" stroke-width="0.4"/>
<path d="M738.5,361.5 L741.0,363.5 L743.5,366.5 L742.5,367.0 L739.0,364.0Z" fill="url(#nd)" stroke="#bcbcbc" stroke-width="0.4"/>
<path d="M741.0,350.0 L742.0,352.0 L741.5,354.0 L740.5,352.0Z" fill="url(#nd)" stroke="#bcbcbc" stroke-width="0.4"/>
<path d="M757.0,352.0 L760.0,351.0 L761.0,353.0 L758.0,354.0Z" fill="url(#nd)" stroke="#bcbcbc" stroke-width="0.4"/>
<path d="M358.2,215.9 L360.3,223.8 L354.8,225.7 L350.5,229.6 L343.5,232.8 L343.5,235.4 M333.4,235.4 L343.5,235.4 M343.5,235.4 L343.4,239.9 L335.9,239.9 L335.8,246.7 L333.4,252.3 L324.3,252.3 M343.4,236.5 L351.7,242.5 L349.3,252.3 L350.4,264.9 L350.4,267.5 L336.8,267.5 L334.9,270.1 L325.6,265.1 M351.7,242.5 L360.5,250.9 L367.6,256.2 L372.6,258.0 L376.2,256.2 L382.8,251.7 L390.0,246.5 M381.7,211.0 L381.2,216.7 L384.0,220.9 M388.4,220.9 L385.6,223.6 L384.2,228.8 M390.0,246.5 L397.1,247.8 L398.8,253.6 L399.1,258.3 L398.6,266.7 L394.3,272.5 M417.8,257.0 L416.1,267.0 L414.4,275.1 L415.9,279.6 M418.7,225.2 L419.9,250.4 L446.9,250.4 M371.3,268.8 L372.7,268.0 L372.6,264.1 L372.6,258.0 M350.4,267.5 L352.6,270.9 L353.1,274.9 L350.8,279.4 L350.3,281.5 L346.8,280.9 L343.6,277.0 L338.8,275.7 L336.7,274.6 L334.9,270.1 M371.3,268.8 L365.3,272.8 L363.0,275.4 L362.8,279.1 L356.5,279.4 L356.8,283.3 L354.7,282.5 L350.3,281.5 M371.3,272.3 L368.5,276.2 L371.3,277.5 M362.8,279.1 L363.7,275.4 L365.3,272.8 M356.5,279.4 L356.8,283.3 L357.0,287.2 L356.0,294.9 M362.8,279.1 L364.2,283.3 L365.8,292.2 M365.1,279.4 L366.7,283.3 L366.7,292.0 M368.5,276.2 L371.3,277.5 L369.3,284.6 L369.3,291.5 M338.8,275.7 L337.6,280.1 L338.7,284.6 L339.1,285.9 L343.5,288.8 L343.1,291.2 L345.6,296.7 M332.2,282.3 L335.2,284.6 L339.1,285.9 L336.6,288.3 L336.3,290.1 M335.1,275.1 L331.4,275.9 L327.2,275.1 L324.5,275.1 M331.4,275.1 L331.3,279.1 L328.3,279.6 M324.3,272.5 L331.2,273.0 L327.3,273.8 M396.4,273.8 L394.4,279.6 L393.8,282.0 L391.0,285.9 L389.9,290.7 L388.0,292.2 L382.7,296.2 M396.4,273.8 L398.8,280.7 L397.5,282.0 L398.9,288.6 M398.9,288.6 L407.0,284.6 L415.9,279.6 M398.9,288.6 L396.9,297.0 L400.2,302.5 M400.2,302.5 L393.9,302.5 L389.2,302.5 L385.3,305.7 M389.2,302.5 L389.3,305.7 L385.3,305.7 M406.0,298.8 L408.3,296.5 L415.2,294.9 L421.0,295.9 L426.8,294.4 M415.9,279.6 L417.9,283.8 L419.0,285.7 L424.2,290.7 L426.8,294.4 M417.6,282.0 L423.2,283.0 L427.8,281.5 L432.4,283.0 L437.0,282.0 L438.1,278.0 L439.4,276.2 L441.7,282.0 M451.4,260.9 L447.0,268.8 L448.2,270.7 L446.5,275.4 L442.6,282.0 M447.0,270.1 L452.8,270.1 L455.1,270.7 L460.8,274.9 M460.8,274.9 L461.9,279.4 L463.0,278.3 M426.8,294.4 L432.2,297.2 L434.5,298.8 L440.8,298.8 L445.4,296.2 L446.3,295.4 M434.5,298.8 L432.9,305.1 L431.8,310.9 L431.5,312.2 M440.8,298.8 L443.4,303.8 L442.0,308.0 L441.8,310.9 M434.6,310.9 L441.8,310.9 M441.8,310.9 L446.6,313.3 L450.3,316.2 L454.0,320.7 M434.6,310.9 L434.5,314.6 L432.6,320.1 L431.4,325.1 L434.3,329.9 L439.1,333.0 L441.7,333.6 M443.8,338.6 L456.4,335.9 M439.1,333.0 L441.5,338.6 L442.5,343.8 L444.1,346.2 L443.6,350.7 L444.0,353.3 L442.3,349.1 L439.2,345.4 L439.9,339.9 L439.1,333.0 M434.3,329.9 L429.0,330.7 L428.6,337.2 L425.3,341.2 L418.4,338.6 L413.7,342.5 L413.5,350.7 L416.4,355.1 L420.8,354.3 L429.6,349.9 L432.9,349.3 L439.4,346.7 M391.5,324.1 L401.3,324.1 L403.5,329.1 L408.2,327.5 L413.5,329.4 L414.5,337.2 L418.5,337.2 L418.4,338.6 M391.1,321.5 L397.8,320.1 L400.9,316.2 L403.9,308.3 L405.0,303.0 L406.0,298.8 M389.3,305.7 L393.9,302.5 L395.5,305.1 L396.5,311.7 L393.2,314.9 L389.0,318.8 M390.1,353.8 L405.4,354.1 L411.1,355.1 L416.4,355.1 M408.8,355.1 L408.5,366.2 L408.2,374.1 L407.8,383.6 L400.0,383.6 M420.7,355.1 L422.6,360.9 L428.9,367.0 L423.6,373.3 L420.8,375.9 L413.6,378.8 L408.2,374.1 M434.1,367.0 L435.0,376.5 L435.2,378.8 M428.9,367.0 L434.1,367.0 M425.7,383.6 L428.6,384.6 L428.2,387.0 L425.3,388.8 L423.3,386.7 L425.7,383.6 M463.0,278.3 L464.8,283.3 L474.0,287.2 M458.2,297.8 L458.2,300.9 L459.6,312.8 M440.8,220.7 L441.7,222.3 L443.5,223.3 L448.5,220.4 L452.8,217.5 L455.2,211.5 L455.0,210.7 M441.0,230.7 L441.9,226.2 L441.7,222.3 M443.5,231.5 L445.1,225.4 L450.0,223.6 L455.2,226.5 L463.0,231.7 L467.0,231.7 L469.4,229.1 M460.2,210.2 L462.3,213.8 L463.2,218.3 L465.0,221.5 L468.9,225.4 L471.2,229.4 M467.0,231.7 L471.4,233.3 M479.9,244.4 L488.4,248.8 L489.6,249.1 L489.9,241.2 M481.9,258.3 L484.7,262.8 L482.8,264.6 M482.8,264.6 L474.6,262.3 L468.5,263.8 L462.3,262.5 L461.3,264.9 M481.9,258.3 L488.4,248.8 M479.9,210.4 L484.3,209.6 L490.9,210.2 L496.1,212.0 L496.6,214.9 L496.7,217.5 L496.5,220.2 L500.2,225.4 L499.0,229.9 M496.6,214.9 L499.6,214.6 L500.9,215.4 L503.7,213.6 L505.4,210.7 L507.2,210.2 L510.7,211.0 L514.8,210.2 L519.3,211.0 L524.6,210.4 M507.2,210.2 L507.5,208.6 L502.2,205.7 L496.4,202.3 L491.0,199.7 L487.8,197.4 L486.2,196.6 L484.1,199.2 L482.1,199.7" fill="none" stroke="#bcbcbc" stroke-width="0.4"/>
<path d="M203.5,363.5 L205.8,366.0 L208.3,375.0 L205.8,383.3 L205.0,396.7 L206.7,410.0 L210.8,421.7 L213.3,435.0 L218.3,441.7 L225.0,445.8 M200.8,356.5 L203.3,363.3 L203.5,363.5 M462.0,185.5 L457.7,181.0 L459.0,177.0 L463.7,173.5 L470.0,175.0 L476.7,173.3 L483.3,170.0 L486.7,166.7 L493.3,165.0 L496.7,163.3 L505.0,166.7 L511.7,166.7 L520.0,171.7 L530.0,175.0 L541.7,179.2 M598.3,177.5 L601.7,173.3 L603.3,169.2 L610.0,170.0 L616.7,173.3 L623.3,178.3 L630.0,180.0 L636.7,181.7 L638.3,188.3 L636.7,193.3 L640.0,198.3 M510.3,199.4 L512.6,195.9 L514.4,195.3 L518.5,194.1 L520.9,195.0 L530.3,195.6 L532.6,196.5 M522.6,202.4 L526.8,200.6 L532.6,197.1 L532.1,192.4 L529.7,190.6 L533.2,188.2 L533.8,184.7 L537.9,183.5 L538.5,180.6 L541.7,179.2" fill="none" stroke="#444" stroke-width="0.4"/>
</g>
<g font-family="Liberation Sans, sans-serif" font-size="13.4" fill="#333">
<rect x="136.5" y="518.0" width="58.6" height="10.4" fill="#fff7fb" stroke="#999" stroke-width="0.4"/>
<rect x="195.1" y="518.0" width="58.6" height="10.4" fill="#ece7f2" stroke="#999" stroke-width="0.4"/>
<rect x="253.7" y="518.0" width="58.6" height="10.4" fill="#d0d1e6" stroke="#999" stroke-width="0.4"/>
<rect x="312.2" y="518.0" width="58.6" height="10.4" fill="#a6bddb" stroke="#999" stroke-width="0.4"/>
<rect x="370.8" y="518.0" width="58.6" height="10.4" fill="#74a9cf" stroke="#999" stroke-width="0.4"/>
<rect x="429.4" y="518.0" width="58.6" height="10.4" fill="#3690c0" stroke="#999" stroke-width="0.4"/>
<rect x="488.0" y="518.0" width="58.6" height="10.4" fill="#1e80b8" stroke="#999" stroke-width="0.4"/>
<rect x="546.6" y="518.0" width="58.6" height="10.4" fill="#0570b0" stroke="#999" stroke-width="0.4"/>
<rect x="605.1" y="518.0" width="58.6" height="10.4" fill="#045a8d" stroke="#999" stroke-width="0.4"/>
<rect x="663.7" y="518.0" width="58.6" height="10.4" fill="#034973" stroke="#999" stroke-width="0.4"/>
<rect x="722.3" y="518.0" width="58.6" height="10.4" fill="#023858" stroke="#999" stroke-width="0.4"/>
<line x1="136.5" y1="515.0" x2="136.5" y2="518.0" stroke="#999" stroke-width="0.6"/>
<text x="136.5" y="511.5" text-anchor="middle">0%</text>
<line x1="195.1" y1="515.0" x2="195.1" y2="518.0" stroke="#999" stroke-width="0.6"/>
<text x="195.1" y="511.5" text-anchor="middle">0%</text>
<line x1="253.7" y1="515.0" x2="253.7" y2="518.0" stroke="#999" stroke-width="0.6"/>
<text x="253.7" y="511.5" text-anchor="middle">10%</text>
<line x1="312.2" y1="515.0" x2="312.2" y2="518.0" stroke="#999" stroke-width="0.6"/>
<text x="312.2" y="511.5" text-anchor="middle">20%</text>
<line x1="370.8" y1="515.0" x2="370.8" y2="518.0" stroke="#999" stroke-width="0.6"/>
<text x="370.8" y="511.5" text-anchor="middle">30%</text>
<line x1="429.4" y1="515.0" x2="429.4" y2="518.0" stroke="#999" stroke-width="0.6"/>
<text x="429.4" y="511.5" text-anchor="middle">40%</text>
<line x1="488.0" y1="515.0" x2="488.0" y2="518.0" stroke="#999" stroke-width="0.6"/>
<text x="488.0" y="511.5" text-anchor="middle">50%</text>
<line x1="546.6" y1="515.0" x2="546.6" y2="518.0" stroke="#999" stroke-width="0.6"/>
<text x="546.6" y="511.5" text-anchor="middle">60%</text>
<line x1="605.1" y1="515.0" x2="605.1" y2="518.0" stroke="#999" stroke-width="0.6"/>
<text x="605.1" y="511.5" text-anchor="middle">70%</text>
<line x1="663.7" y1="515.0" x2="663.7" y2="518.0" stroke="#999" stroke-width="0.6"/>
<text x="663.7" y="511.5" text-anchor="middle">80%</text>
<line x1="722.3" y1="515.0" x2="722.3" y2="518.0" stroke="#999" stroke-width="0.6"/>
<text x="722.3" y="511.5" text-anchor="middle">90%</text>
<line x1="780.9" y1="515.0" x2="780.9" y2="518.0" stroke="#999" stroke-width="0.6"/>
<text x="780.9" y="511.5" text-anchor="middle">100%</text>
<rect x="69.4" y="518" width="47.3" height="10.4" fill="url(#nd)" stroke="#aaa" stroke-width="0.4"/>
<line x1="93" y1="515" x2="93" y2="518" stroke="#999" stroke-width="0.6"/>
<text x="93" y="511.5" text-anchor="middle">No data</text>
</g>
</svg>
<div class="foot" style="top:550.3px"><b>Data source:</b> Integrated Values Surveys (2024)</div>
<div class="foot" style="top:570px;letter-spacing:0.1px"><b>Note:</b> Agreeing here corresponds to responding "strongly agree" or "agree" to the statement.</div>
<div class="lic">lgbt-rights | CC BY</div>
</div></body></html>
